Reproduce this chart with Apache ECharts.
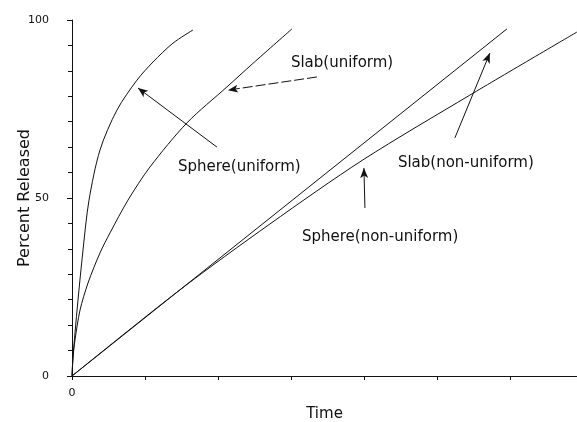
<!DOCTYPE html>
<html>
<head>
<meta charset="utf-8">
<script src="https://cdn.jsdelivr.net/npm/echarts@6/dist/echarts.min.js"></script>
<style>html,body{margin:0;padding:0;background:#fff}#c{width:577px;height:422px}</style>
</head>
<body>
<div id="c"></div>
<script>
// Data (x = time, arbitrary units; y = percent released)
const sphereUniform = [[0,0],[0.014,5.3],[0.041,12.1],[0.082,21.3],[0.151,35.4],[0.233,49.4],[0.384,63.5],[0.616,74.7],[0.89,83.1],[1.11,88.2],[1.384,93.5],[1.658,97.2]];
const slabUniform = [[0,0],[0.014,5.3],[0.041,10.1],[0.11,18.5],[0.219,26.1],[0.384,34.6],[0.521,40.2],[0.767,49.4],[1.068,58.7],[1.575,71.1],[2.123,81.2],[2.479,87.8],[3.014,97.5]];
const slabNonUniform = [[0,0],[5.96,97.5]];
const sphereNonUniform = [[0,0],[1.479,24.2],[2.712,42.7],[3.986,60.7],[5.452,78.9],[6.918,96.6]];

const yTicks = [0, 50, 100];
const xTickLabels = ['0'];

// Annotation labels: [text, x, y]
const labels = [
  ['Sphere(uniform)', 1.452, 58.7],
  ['Slab(uniform)', 3.0, 87.9],
  ['Slab(non-uniform)', 4.466, 59.8],
  ['Sphere(non-uniform)', 3.151, 39.0]
];
// Arrows: [tail, head, dashed]
const arrows = [
  [[1.986, 64.3], [0.904, 80.9], false],
  [[3.356, 84.0], [2.137, 80.3], true],
  [[5.247, 66.9], [5.726, 90.7], false],
  [[4.014, 47.2], [4.0, 58.4], false]
];

const ink = '#111';
const font = 'DejaVu Sans';
const chart = echarts.init(document.getElementById('c'));

function lineSeries(name, data, smooth) {
  return {
    name, type: 'line', data, smooth: smooth, showSymbol: false, symbol: 'none',
    lineStyle: { color: ink, width: 1 }, z: 3
  };
}

const series = [
  lineSeries('Sphere(uniform)', sphereUniform, 0.3),
  lineSeries('Slab(uniform)', slabUniform, 0.3),
  lineSeries('Slab(non-uniform)', slabNonUniform, false),
  lineSeries('Sphere(non-uniform)', sphereNonUniform, 0.3)
];

series.push({
  type: 'line', data: [], silent: true, color: ink,
  itemStyle: { color: ink },
  markLine: {
    silent: true, animation: false,
    symbol: ['none', 'arrow'], symbolSize: 9,
    itemStyle: { color: ink },
    lineStyle: { color: ink, width: 1, type: 'solid' },
    emphasis: { disabled: true },
    label: { show: false },
    data: arrows.map(a => [
      { coord: a[0], symbol: 'none', lineStyle: { color: ink, width: 1, type: a[2] ? [10, 3] : 'solid' } },
      { coord: a[1], symbol: 'arrow', symbolSize: [6, 10], itemStyle: { color: ink } }
    ])
  },
  markPoint: {
    silent: true, animation: false,
    symbol: 'circle', symbolSize: 0,
    label: {
      show: true, position: 'right', distance: 0,
      color: ink, fontFamily: font, fontSize: 15,
      formatter: p => p.name
    },
    data: labels.map(l => ({ name: l[0], coord: [l[1], l[2]] }))
  }
});

chart.setOption({
  animation: false,
  backgroundColor: '#fff',
  grid: { left: 72, right: 0, top: 20, bottom: 46, containLabel: false, outerBoundsMode: 'none' },
  xAxis: [{
    type: 'value', min: 0, max: 6.92, interval: 1,
    name: 'Time', nameLocation: 'middle', nameGap: 31, nameMoveOverlap: false,
    nameTextStyle: { color: ink, fontFamily: font, fontSize: 15 },
    axisLine: { show: true, onZero: false, lineStyle: { color: ink, width: 1 } },
    axisTick: { show: true, length: 4, lineStyle: { color: ink } },
    axisLabel: {
      color: ink, fontFamily: font, fontSize: 11, margin: 12,
      formatter: v => (v === 0 ? xTickLabels[0] : ''), showMaxLabel: false
    },
    splitLine: { show: false }
  }, {
    type: 'value', position: 'top', min: 0, max: 6.92,
    axisLine: { show: true, lineStyle: { color: ink, width: 1, type: [16, 3, 2, 3] } },
    axisTick: { show: false }, axisLabel: { show: false }, splitLine: { show: false }
  }],
  yAxis: {
    type: 'value', min: 0, max: 100, interval: 50,
    name: 'Percent Released', nameLocation: 'middle', nameGap: 39, nameMoveOverlap: false,
    nameTextStyle: { color: ink, fontFamily: font, fontSize: 16 },
    axisLine: { show: true, lineStyle: { color: ink, width: 1 } },
    axisTick: { show: true, length: 5, lineStyle: { color: ink } },
    minorTick: { show: true, splitNumber: 7, length: 4, lineStyle: { color: ink } },
    axisLabel: {
      color: ink, fontFamily: font, fontSize: 11, margin: 23,
      formatter: v => (yTicks.indexOf(v) >= 0 ? String(v) : '')
    },
    splitLine: { show: false }
  },
  series
});
</script>
</body>
</html>
